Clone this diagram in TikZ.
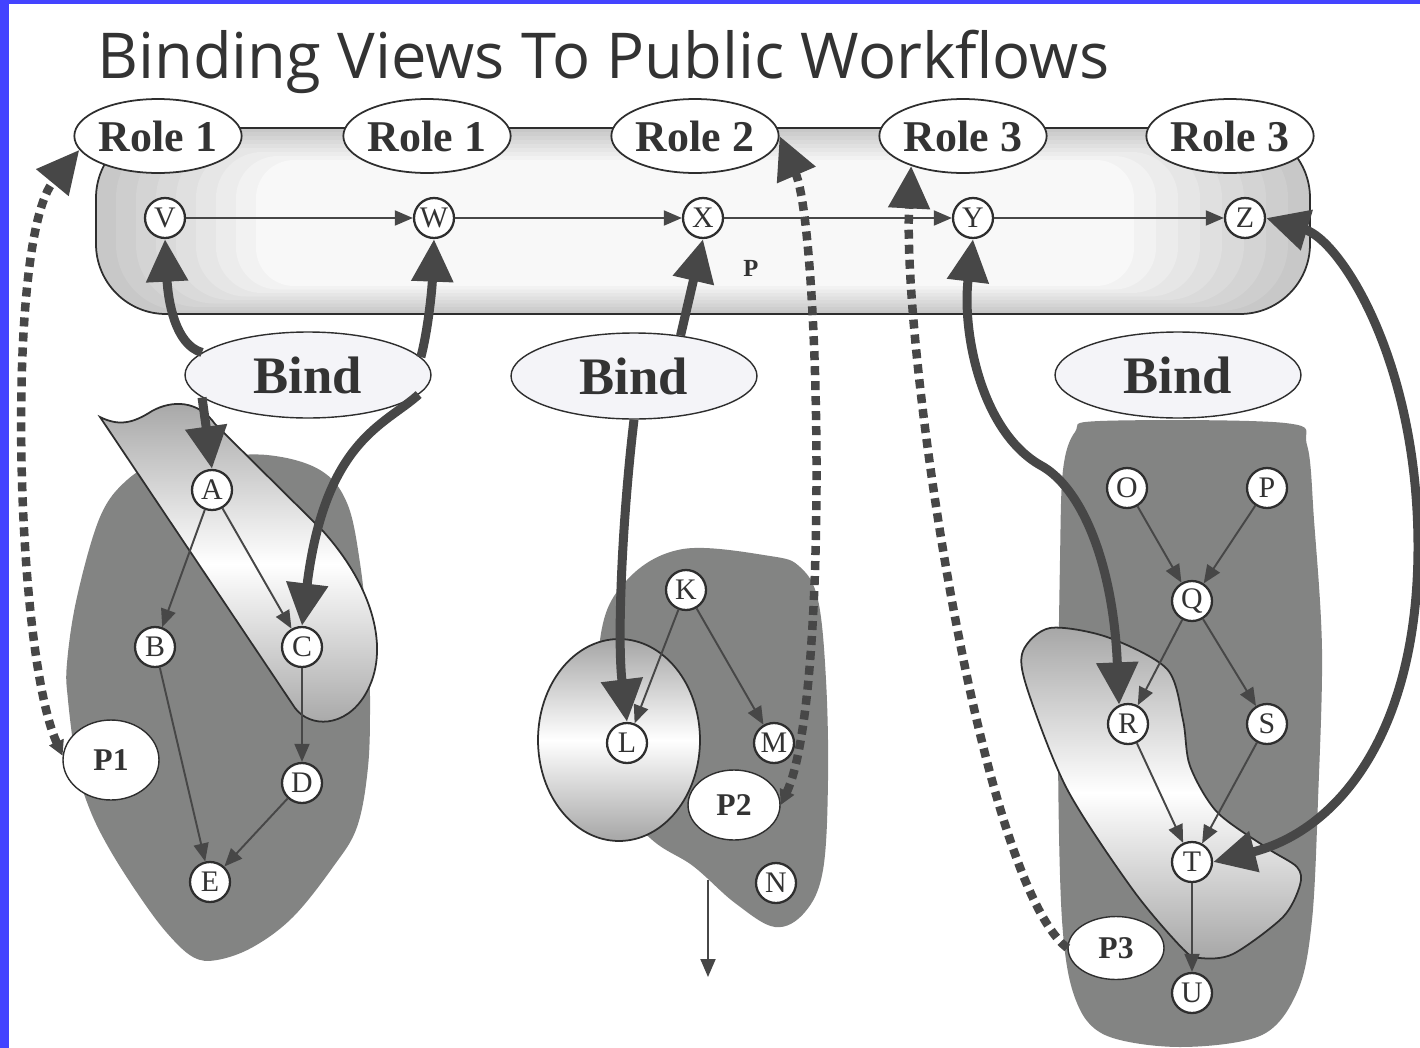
\documentclass[tikz,border=0pt]{standalone}
\usepackage{fontspec}
\setmainfont{Liberation Serif}
\newfontfamily\titlefont{Open Sans}
\usepackage{tikz}
\usepackage{xcolor}
\usetikzlibrary{arrows.meta,shapes.geometric}
\definecolor{Frame}{HTML}{4343FF}
\definecolor{Ink}{HTML}{474747}
\definecolor{Edge}{HTML}{2E2E2E}
\definecolor{Label}{HTML}{333333}
\definecolor{Blob}{HTML}{838483}
\definecolor{BandGray}{HTML}{C8C8C8}
\definecolor{SashGray}{HTML}{A6A6A6}
\definecolor{BindFill}{HTML}{F4F4F8}
\tikzset{
  Head/.tip={Triangle[length=0.85cm,width=0.8cm]},
  Nub/.tip={Triangle[length=0.3cm,width=0.3cm]}
}

\begin{document}
\begin{tikzpicture}[
  x=0.02cm, y=-0.02cm,
  role/.style={ellipse,draw=Edge,line width=1pt,fill=white,minimum width=3.24cm,minimum height=1.48cm,inner sep=0pt,font=\bfseries\fontsize{25}{28}\selectfont,text=Label},
  task/.style={circle,draw=Edge,line width=1.3pt,fill=white,minimum size=0.8cm,inner sep=0pt,font=\fontsize{17}{18}\selectfont,text=Label},
  bindbox/.style={ellipse,draw=Edge,line width=0.8pt,fill=BindFill,minimum width=4.92cm,minimum height=1.72cm,inner sep=0pt,font=\bfseries\fontsize{30}{34}\selectfont,text=Label},
  pnode/.style={ellipse,draw=Edge,line width=0.8pt,fill=white,inner sep=0pt,font=\bfseries\fontsize{18}{20}\selectfont,text=Label},
  sash/.style={draw=Edge,line width=1pt,top color=SashGray,bottom color=SashGray,middle color=white},
  arrow/.style={-{Triangle[length=0.36cm,width=0.3cm]},line width=1.1pt,draw=Ink},
  thickarrow/.style={line width=0.18cm,draw=Ink},
  dotarrow/.style={line width=0.17cm,draw=Ink,dash pattern=on 0.18cm off 0.12cm}
]
\useasboundingbox (0,0) rectangle (1420,1048);
\fill[white] (0,0) rectangle (1420,1048);
\fill[Frame] (0,0) rectangle (9,1048);
\fill[Frame] (0,0) rectangle (1420,4);

\node[anchor=base west,inner sep=0pt,text=Label,font=\titlefont\fontsize{36}{40}\selectfont] (title) at (97,78) {Binding Views To Public Workflows};

% public workflow band
\foreach \i in {0,...,8}{
  \pgfmathsetmacro{\tone}{100-\i*11}
  \pgfmathsetmacro{\rad}{1.4-0.08*\i}
  \fill[BandGray!\tone!white,rounded corners=\rad cm] ({96+20*\i},{128+4*\i}) rectangle ({1310-22*\i},{314-3.5*\i});
}
\draw[Edge,line width=1pt,rounded corners=1.4cm] (96,128) rectangle (1310,314);

\node[role] (r1a) at (158,136) {Role 1};
\node[role] (r1b) at (427,136) {Role 1};
\node[role] (r2) at (695,136) {Role 2};
\node[role] (r3a) at (963,136) {Role 3};
\node[role] (r3b) at (1230,136) {Role 3};

\node[task] (V) at (165,218) {V};
\node[task] (W) at (434,218) {W};
\node[task] (X) at (703,218) {X};
\node[task] (Y) at (973,218) {Y};
\node[task] (Z) at (1245,218) {Z};
\node[text=Label,font=\bfseries\fontsize{14}{16}\selectfont] (plabel) at (751,268) {P};
\draw[arrow] (V) -- (W);
\draw[arrow] (W) -- (X);
\draw[arrow] (X) -- (Y);
\draw[arrow] (Y) -- (Z);

% left view
\fill[Blob] plot[smooth cycle,tension=0.6] coordinates {(200,458) (267,455) (320,470) (347,503) (360,563) (368,640) (370,700) (368,767) (357,827) (333,867) (293,917) (253,947) (217,960) (193,957) (167,933) (140,897) (110,850) (90,810) (77,767) (68,700) (67,663) (77,597) (100,517) (127,480) (160,462)};
\path[sash] (100,417) .. controls (118,426) and (132,424) .. (152,411) .. controls (172,400) and (198,400) .. (215,424) -- (322,530) .. controls (372,585) and (392,650) .. (365,695) .. controls (345,728) and (310,728) .. (295,708) -- cycle;
\node[task] (A) at (212,490) {A};
\node[task] (B) at (155,647) {B};
\node[task] (C) at (302,647) {C};
\node[task] (D) at (302,783) {D};
\node[task] (E) at (210,882) {E};
\node[pnode,minimum width=1.92cm,minimum height=1.6cm] (p1) at (111,760) {P1};
\draw[arrow] (A) -- (B);
\draw[arrow] (A) -- (C);
\draw[arrow] (B) -- (E);
\draw[arrow] (C) -- (D);
\draw[arrow] (D) -- (E);

% middle view
\fill[Blob] plot[smooth cycle,tension=0.6] coordinates {(683,549) (770,556) (800,567) (818,600) (826,680) (828,780) (823,870) (805,912) (775,927) (735,903) (693,866) (650,838) (600,780) (600,640) (627,580)};
\path[sash] (619,740) ellipse [x radius=1.62cm,y radius=2.02cm];
\node[task] (K) at (686,590) {K};
\node[task] (L) at (627,743) {L};
\node[task] (M) at (774,743) {M};
\node[task] (N) at (776,883) {N};
\node[pnode,minimum width=1.84cm,minimum height=1.4cm] (p2) at (734,805) {P2};
\coordinate (nout) at (708,880);
\coordinate (nend) at (708,977);
\draw[arrow] (K) -- (L);
\draw[arrow] (K) -- (M);
\draw[arrow] (nout) -- (nend);

% right view
\fill[Blob] plot[smooth cycle,tension=0.55] coordinates {(1100,421) (1285,423) (1307,445) (1314,520) (1322,650) (1318,800) (1312,920) (1298,990) (1262,1035) (1180,1047) (1105,1035) (1075,998) (1062,920) (1058,750) (1060,560) (1063,470) (1075,432)};
\path[sash] plot[smooth cycle,tension=0.5] coordinates {(1023,651) (1050,628) (1107,637) (1167,669) (1183,720) (1190,766) (1217,812) (1267,848) (1297,867) (1300,885) (1283,917) (1233,954) (1200,958) (1183,949) (1133,890) (1067,789) (1027,688)};
\node[task] (O) at (1127,488) {O};
\node[task] (Pn) at (1267,488) {P};
\node[task] (Q) at (1192,601) {Q};
\node[task] (R) at (1128,724) {R};
\node[task] (S) at (1267,724) {S};
\node[task] (T) at (1192,862) {T};
\node[task] (U) at (1192,993) {U};
\node[pnode,minimum width=1.92cm,minimum height=1.26cm] (p3) at (1116,948) {P3};
\draw[arrow] (O) -- (Q);
\draw[arrow] (Pn) -- (Q);
\draw[arrow] (Q) -- (R);
\draw[arrow] (Q) -- (S);
\draw[arrow] (R) -- (T);
\draw[arrow] (S) -- (T);
\draw[arrow] (T) -- (U);

% bindings
\node[bindbox] (bind1) at (308,375) {Bind};
\node[bindbox] (bind2) at (634,376) {Bind};
\node[bindbox] (bind3) at (1178,375) {Bind};

\draw[thickarrow,-Head] (bind1.168) .. controls (175,345) and (168,300) .. (V.south);
\draw[thickarrow,-Head] (bind1.9) .. controls (428,330) and (432,290) .. (W.south);
\draw[thickarrow,-Head] (bind1.192) -- (A.north);
\draw[thickarrow,-Head] (bind1.350) .. controls (385,425) and (325,440) .. (C.north);
\draw[thickarrow,-Head] (bind2.41) -- (X.south);
\draw[thickarrow,-Head] (bind2.south) .. controls (622,520) and (617,640) .. (L.north);
\draw[thickarrow,Head-Head] (Y.south) .. controls (962,330) and (980,430) .. (1040,465) .. controls (1080,486) and (1113,560) .. (R.115);
\draw[thickarrow,Head-Head] (Z.east) .. controls (1340,240) and (1418,360) .. (1418,547) .. controls (1418,730) and (1340,830) .. (T.east);

% role links
\draw[dotarrow,Nub-Head] (p1.175) .. controls (15,650) and (5,240) .. (r1a.190);
\draw[dotarrow,Nub-Head] (p2.east) .. controls (830,700) and (820,230) .. (r2.east);
\draw[dotarrow,-Head] (p3.west) .. controls (980,880) and (902,350) .. (r3a.210);
\end{tikzpicture}
\end{document}
